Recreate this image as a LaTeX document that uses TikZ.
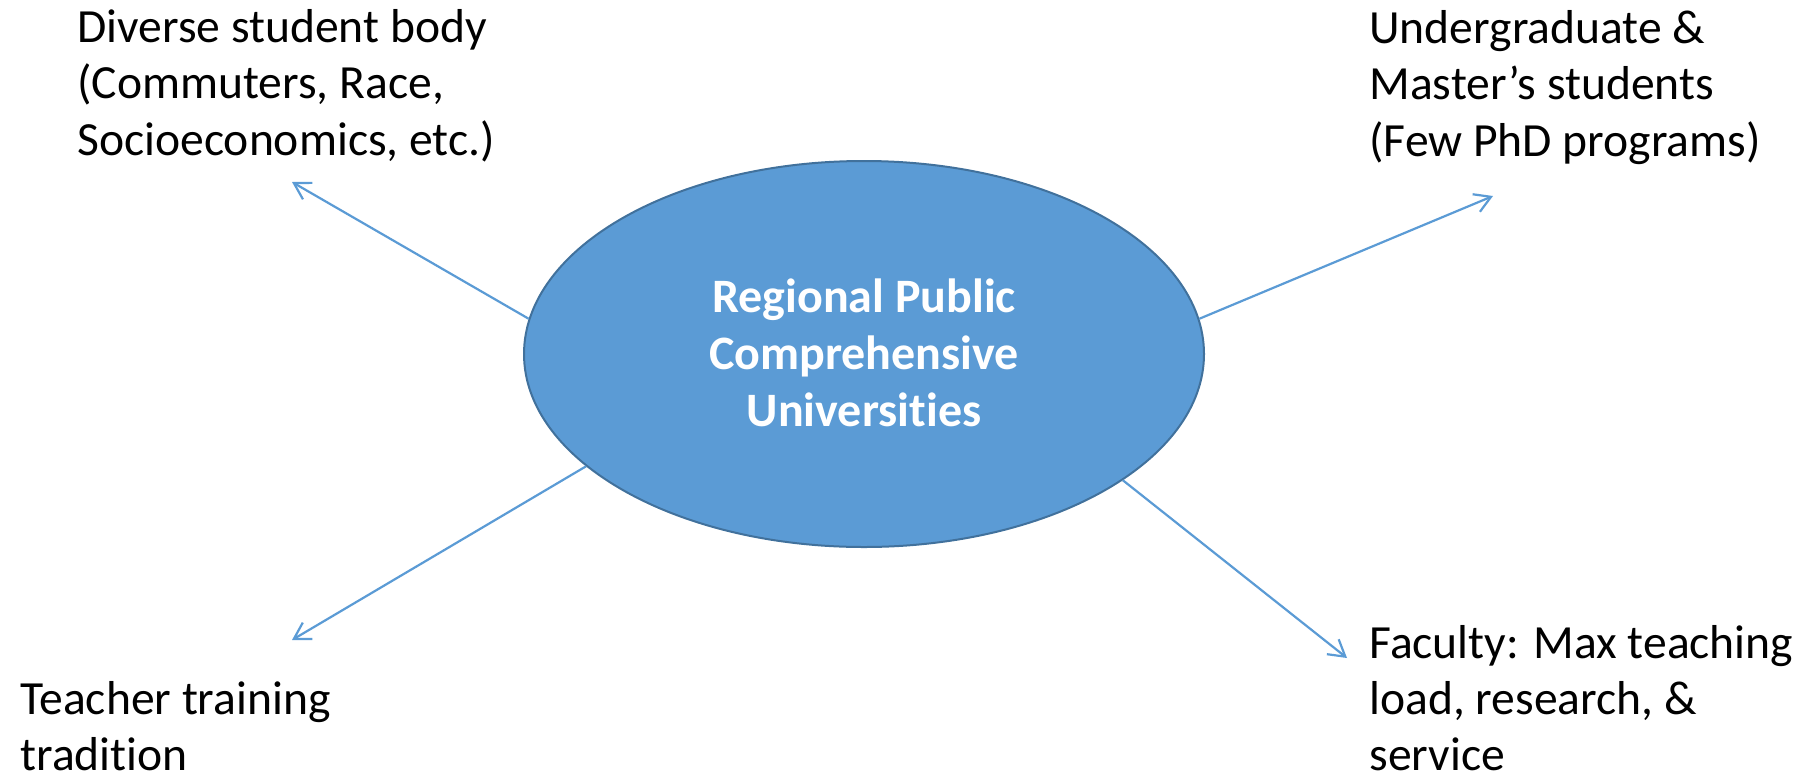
\documentclass[tikz,border=0pt]{standalone}
\usepackage{fontspec}
\setmainfont[Ligatures={TeX,NoCommon}]{Carlito}
\usetikzlibrary{arrows.meta,shapes.geometric}
\definecolor{accent}{HTML}{5B9BD5}
\definecolor{accentdark}{HTML}{41719C}

\begin{document}
\begin{tikzpicture}[x=0.5pt,y=-0.5pt,
  hub/.style={ellipse, fill=accent, draw=accentdark, line width=1pt,
    minimum width=340pt, minimum height=193pt, inner sep=0pt},
  hubtext/.style={text=white, font=\fontsize{24}{28.7}\selectfont\bfseries},
  factor/.style={anchor=base west, inner sep=0pt,
    font=\fontsize{23.8}{28.3}\selectfont},
  link/.style={draw=accent, line width=1.1pt,
    -{Straight Barb[length=8pt,width=9.5pt]}}]
  \useasboundingbox (0,0) rectangle (1802,782);

  % central institution type
  \node[hub] (main) at (864,354) {};
  \node[hubtext] (title) at (864,358)
    {\begin{tabular}{@{}c@{}}Regional Public\\Comprehensive\\Universities\end{tabular}};

  % surrounding characteristics
  \node[factor] (students) at (77,42)
    {\begin{tabular}[t]{@{}l@{}}Diverse student body\\(Commuters, Race,\\Socioeconomics, etc.)\end{tabular}};
  \node[factor] (degrees) at (1369,43)
    {\begin{tabular}[t]{@{}l@{}}Undergraduate \&\\Master’s students\\(Few PhD programs)\end{tabular}};
  \node[factor] (teacher) at (20,714)
    {\begin{tabular}[t]{@{}l@{}}Teacher training\\tradition\end{tabular}};
  \node[factor, font=\fontsize{23.8}{28}\selectfont] (faculty) at (1369,658)
    {\begin{tabular}[t]{@{}l@{}}Faculty: Max teaching\\load, research, \&\\service\end{tabular}};

  % arrow tips
  \coordinate (tipStudents) at (292,182);
  \coordinate (tipDegrees) at (1493,196);
  \coordinate (tipTeacher) at (292,640);
  \coordinate (tipFaculty) at (1347,658);

  \draw[link] (main.174.3) -- (tipStudents);
  \draw[link] (main.6.2) -- (tipDegrees);
  \draw[link] (main.202.8) -- (tipTeacher);
  \draw[link] (main.334.5) -- (tipFaculty);
\end{tikzpicture}
\end{document}
